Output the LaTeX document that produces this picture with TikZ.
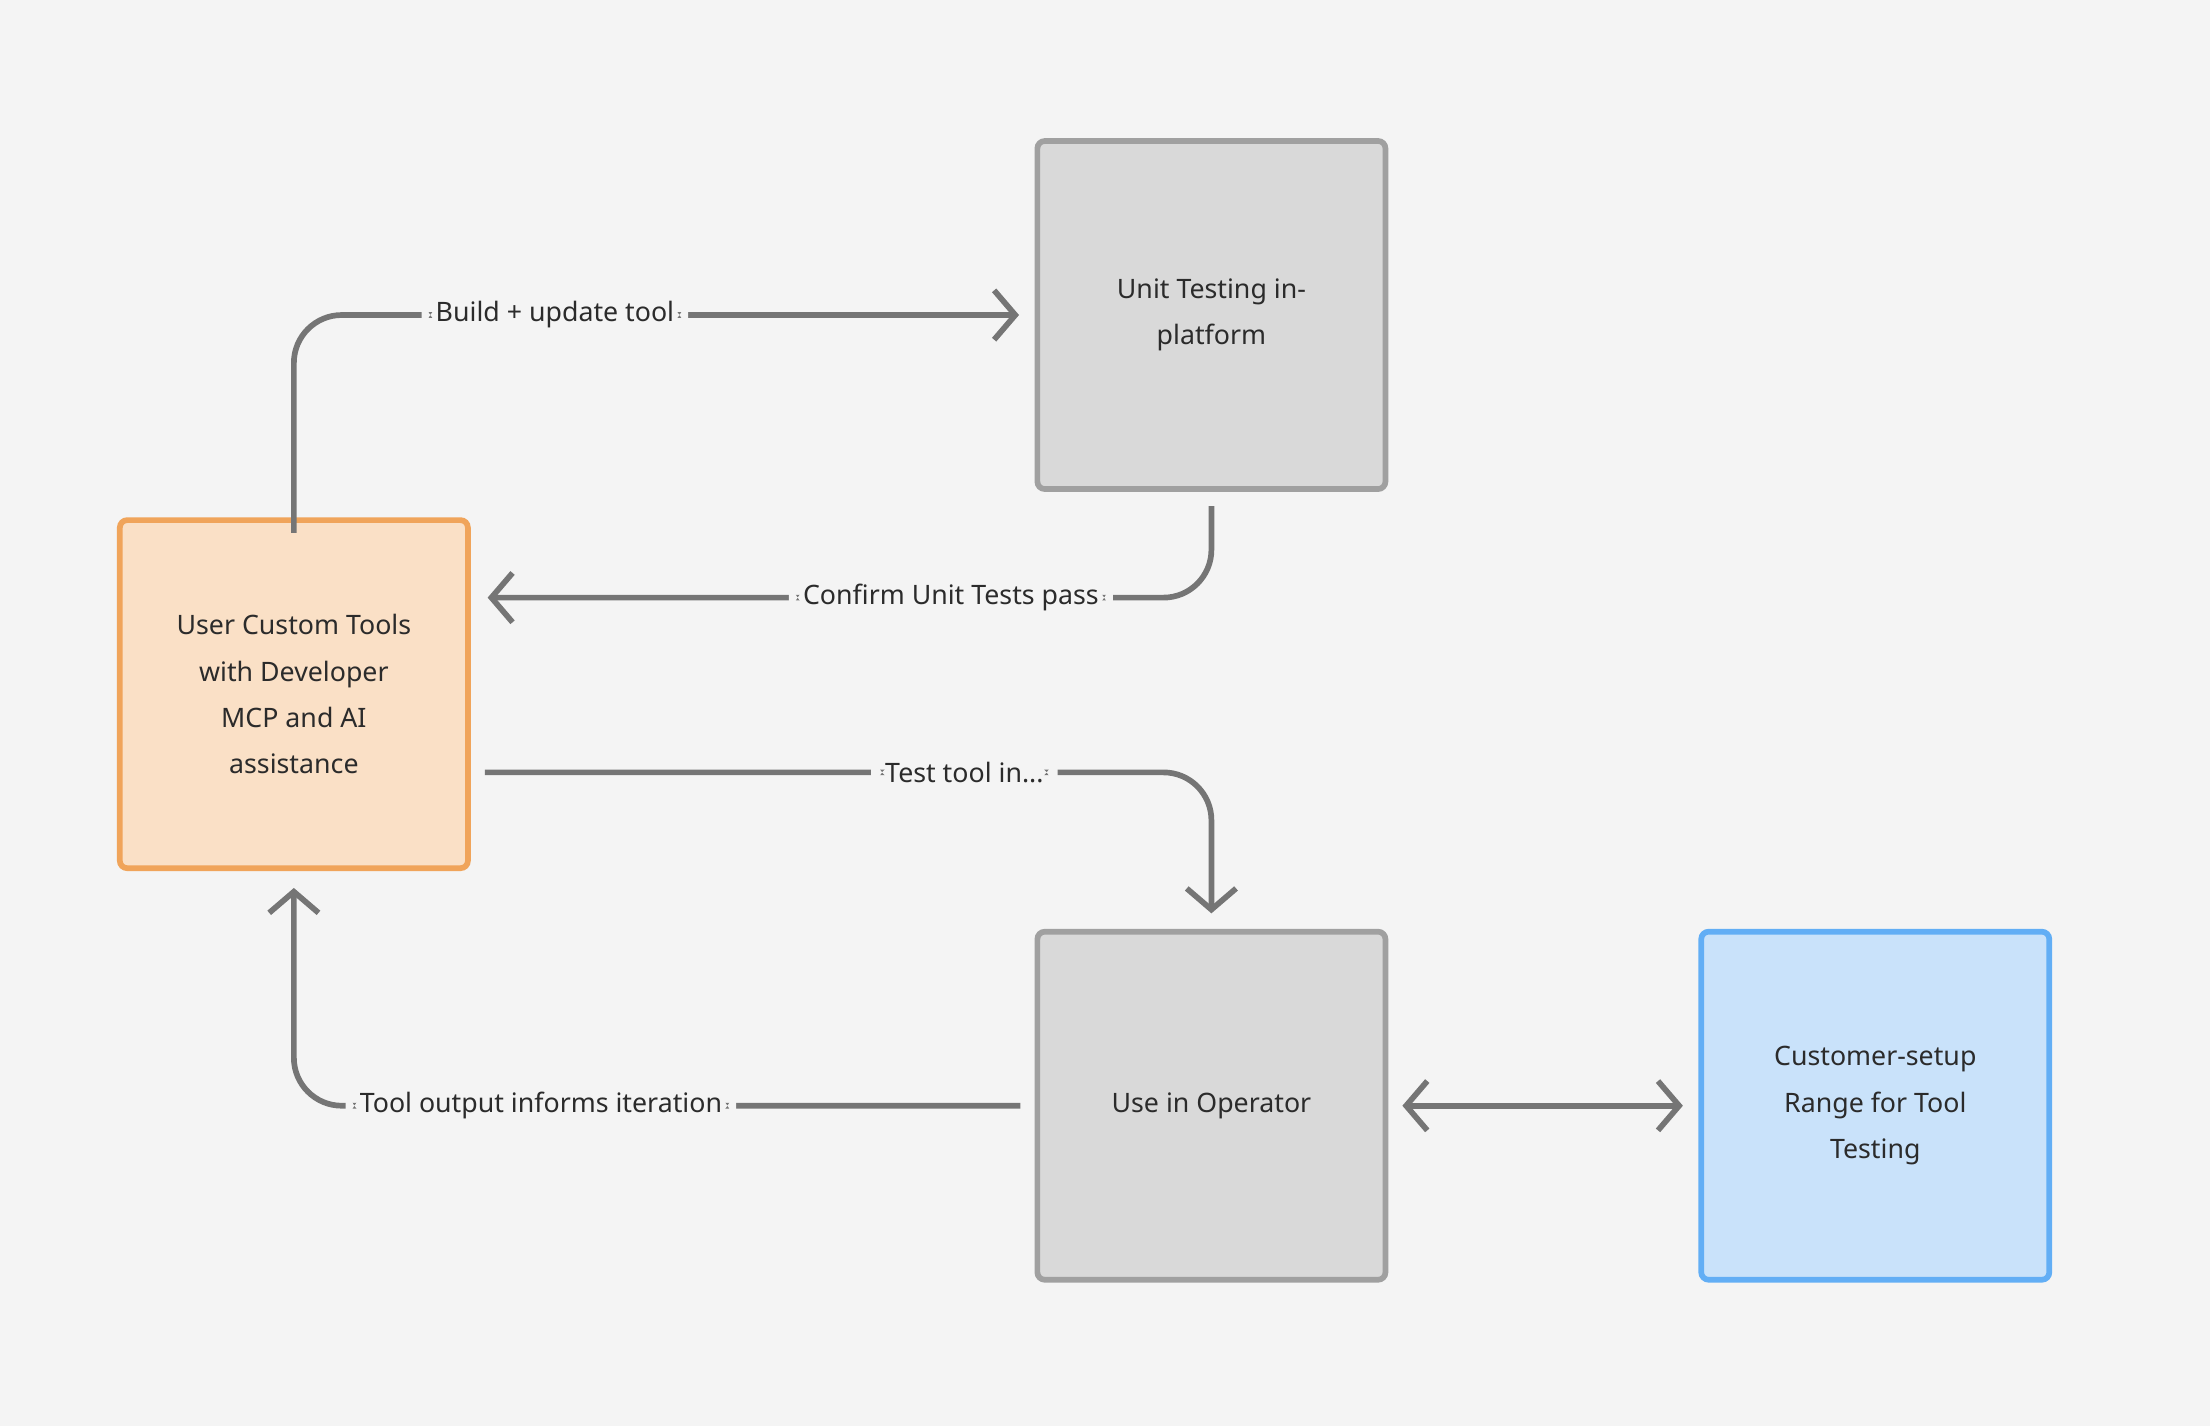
\documentclass[tikz,border=0pt]{standalone}
\usepackage{fontspec}
\setmainfont{Noto Sans}
\usetikzlibrary{arrows.meta,calc}
\definecolor{bg}{HTML}{F4F4F4}
\definecolor{gfill}{HTML}{D9D9D9}
\definecolor{gdraw}{HTML}{A0A0A0}
\definecolor{ofill}{HTML}{FAE0C6}
\definecolor{odraw}{HTML}{F0A45A}
\definecolor{bfill}{HTML}{C9E2FA}
\definecolor{bdraw}{HTML}{62AEF5}
\definecolor{txt}{HTML}{2B2B2B}
\definecolor{ln}{HTML}{757575}
\begin{document}
\begin{tikzpicture}[x=0.02cm,y=-0.02cm,
  box/.style={draw, line width=2.3pt, rounded corners=3pt, minimum width=4.94cm, minimum height=4.94cm, align=center, text=txt, font=\fontsize{10.8}{18.7}\selectfont, inner sep=0pt},
  gbox/.style={box, fill=gfill, draw=gdraw},
  obox/.style={box, fill=ofill, draw=odraw},
  bbox/.style={box, fill=bfill, draw=bdraw},
  conn/.style={draw=ln, line width=2.3pt, rounded corners=0.68cm, -{Straight Barb[length=0.3cm,width=0.7cm,line width=2.3pt]}},
  lab/.style={fill=bg, text=txt, font=\fontsize{10.8}{13}\selectfont, inner xsep=0.2cm, inner ysep=0.1cm}]
\fill[bg] (0,0) rectangle (1568,1012);
\useasboundingbox (0,0) rectangle (1568,1012);
\node[gbox] (ut) at (859.5,223.5) {Unit Testing in-\\platform};
\node[obox] (uc) at (208.5,492.5) {User Custom Tools\\with Developer\\MCP and AI\\assistance};
\node[gbox] (op) at (859.5,784.5) {Use in Operator};
\node[bbox] (cr) at (1330.5,784.5) {Customer-setup\\Range for Tool\\Testing};
\coordinate (a1) at ($(uc.north)+(0,11)$);
\coordinate (a2) at ($(ut.west)+(-11,0)$);
\draw[conn] (a1) |- (a2) node[lab, pos=0.68] {Build + update tool};
\coordinate (b1) at ($(ut.south)+(0,10)$);
\coordinate (b2) at ($(uc.east)+(12,-68.5)$);
\draw[conn] (b1) |- (b2) node[lab, pos=0.68] {Confirm Unit Tests pass};
\coordinate (c1) at ($(uc.east)+(10,55.5)$);
\coordinate (c2) at ($(op.north)+(0,-11)$);
\draw[conn] (c1) -| (c2) node[lab, pos=0.33] {Test tool in...};
\coordinate (d1) at ($(op.west)+(-10,0)$);
\coordinate (d2) at ($(uc.south)+(0,12)$);
\draw[conn] (d1) -| (d2) node[lab, pos=0.33] {Tool output informs iteration};
\coordinate (e1) at ($(op.east)+(10,0)$);
\coordinate (e2) at ($(cr.west)+(-11,0)$);
\draw[conn, {Straight Barb[length=0.3cm,width=0.7cm,line width=2.3pt]}-{Straight Barb[length=0.3cm,width=0.7cm,line width=2.3pt]}] (e1) -- (e2);
\end{tikzpicture}
\end{document}
